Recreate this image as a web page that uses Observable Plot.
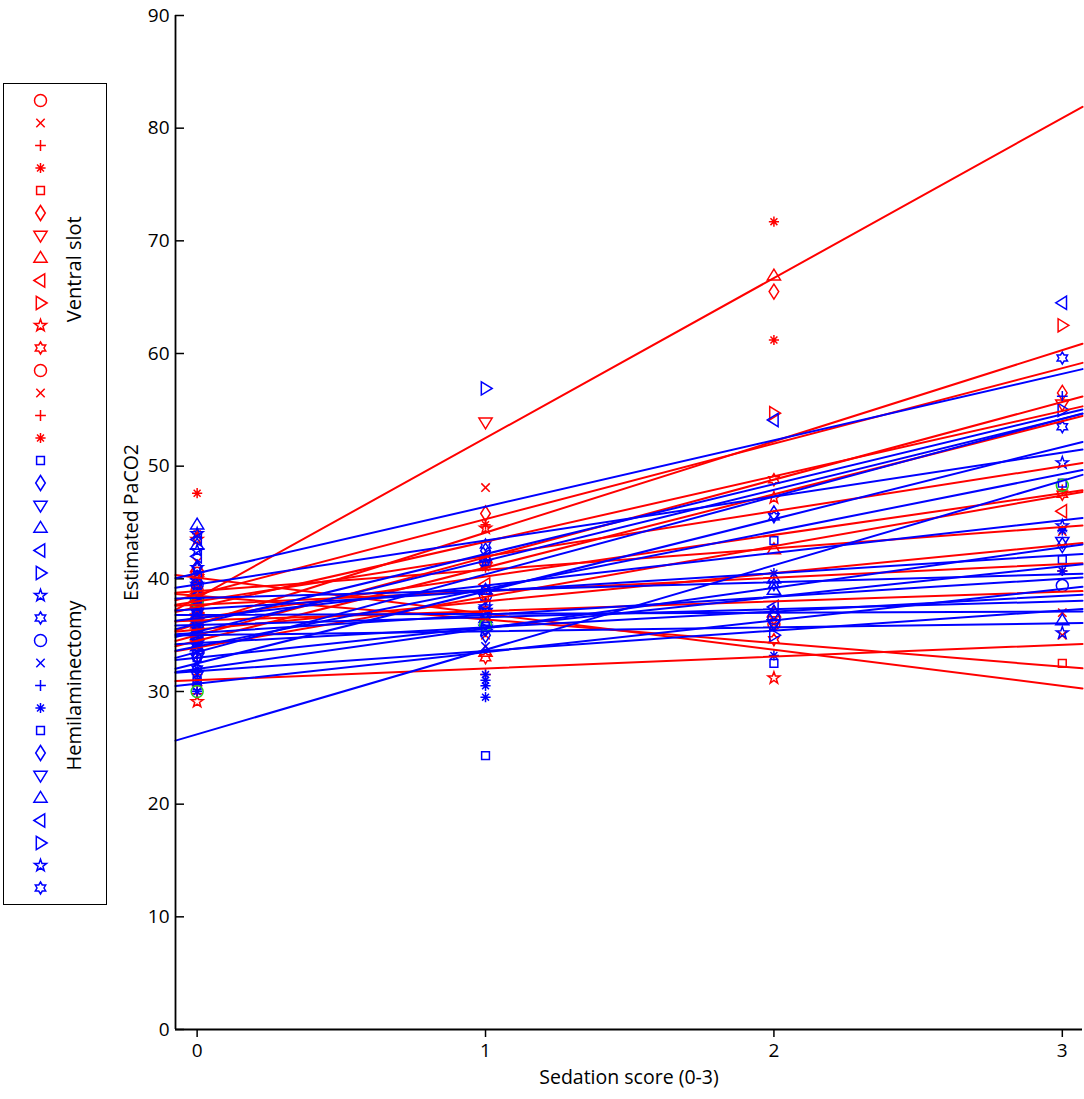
<!DOCTYPE html>
<html>
<head>
<meta charset="utf-8">
<script src="https://cdn.jsdelivr.net/npm/d3@7"></script>
<script src="https://cdn.jsdelivr.net/npm/@observablehq/plot@0.6"></script>
<style>
  html, body { margin: 0; padding: 0; background: #fff; }
  #main { position: absolute; left: 0; top: 0; }
  #legend { position: absolute; left: 3px; top: 83px; width: 102px; height: 820px; border: 1px solid #000; background: #fff; }
  #legend svg { display: block; }
</style>
</head>
<body>
<div id="main"></div>
<div id="legend"></div>
<script>
// ---------- data ----------
const groupNames = ["Ventral slot", "Hemilaminectomy"];
const groupColors = ["#ff0000", "#0000ff"];
const otherColor = "#22cc22";
const xTicks = [0, 1, 2, 3];
const yTicks = [0, 10, 20, 30, 40, 50, 60, 70, 80, 90];
const xLabel = "Sedation score (0-3)";
const yLabel = "Estimated PaCO2";

// marker codes per subject (MATLAB style)
const redSymbols = ["o","x","+","*","s","d","v","^","<",">","p","h","o","x","+","*"];
const blueSymbols = ["s","d","v","^","<",">","p","h","o","x","+","*","s","d","v","^","<",">","p","h"];

// per-subject fitted lines: PaCO2 = intercept + slope * score
const redIntercepts = [37.7, 35.5, 31.0, 38.3, 38.5, 35.0, 38.6, 37.5, 36.5, 36.0, 38.9, 38.0, 36.3, 40.1, 33.9, 34.5];
const redSlopes     = [1.2, 2.5, 1.05, 14.2, -2.1, 6.9, 6.7, 5.8, 3.7, 8.1, 1.9, 4.0, 0.85, -3.2, 4.5, 6.5];
const blueIntercepts = [34.0, 37.3, 35.9, 35.2, 40.5, 35.3, 39.5, 36.0, 38.3, 31.8, 33.5, 30.7, 26.2, 33.0, 32.0, 34.3, 36.8, 35.0, 36.5, 32.5];
const blueSlopes     = [5.1, 1.6, 0.7, 1.6, 5.9, 6.3, 3.9, 6.2, 0.7, 1.8, 6.9, 2.8, 7.5, 2.7, 3.6, 1.4, 0.1, 0.35, 2.9, 6.4];

// observations: [subject, score, PaCO2]
const redObs = [
[0,0,37.5],[0,0,39.0],[0,0,36.0],[0,0,40.5],[0,1,41.5],[0,1,37.0],[0,2,36.5],
[1,0,35.0],[1,0,37.5],[1,0,38.5],[1,1,48.1],[1,2,36.0],[1,3,44.2],
[2,0,30.5],[2,0,31.5],[2,0,29.8],[2,1,31.5],
[3,0,47.6],[3,0,38.0],[3,0,36.5],[3,0,44.0],[3,1,44.8],[3,2,71.7],[3,2,61.2],
[4,0,38.0],[4,0,39.5],[4,0,37.0],[4,1,36.5],[4,3,32.5],
[5,0,35.5],[5,0,37.0],[5,0,34.0],[5,1,45.8],[5,2,65.5],[5,3,56.5],
[6,0,38.0],[6,0,40.0],[6,0,36.5],[6,1,53.9],[6,3,55.5],
[7,0,36.0],[7,0,38.5],[7,0,41.0],[7,1,41.8],[7,1,33.5],[7,2,66.9],[7,2,42.6],[7,2,37.0],
[8,0,36.0],[8,0,37.5],[8,0,34.5],[8,1,39.5],[8,3,46.0],
[9,0,35.0],[9,0,37.0],[9,0,33.5],[9,2,54.7],[9,3,62.5],
[10,0,38.5],[10,0,40.0],[10,0,29.1],[10,0,43.5],[10,1,44.5],[10,1,38.5],[10,2,47.2],[10,2,31.2],
[11,0,37.5],[11,0,39.0],[11,0,35.5],[11,1,33.0],[11,2,48.8],[11,2,34.6],[11,3,47.5],
[12,0,36.5],[12,0,35.0],[12,1,37.0],[12,2,36.0],
[13,0,40.5],[13,0,41.5],[13,0,39.0],[13,1,35.0],[13,3,35.0],[13,3,37.0],
[14,0,33.0],[14,0,34.5],[14,1,42.0],[14,1,38.0],[14,3,47.9],
[15,0,34.0],[15,0,35.5],[15,1,41.0],[15,3,40.7]
];
const blueObs = [
[0,0,34.5],[0,0,33.0],[0,1,39.0],[0,2,43.4],[0,3,48.5],
[1,0,37.0],[1,0,38.5],[1,0,36.0],[1,0,41.0],[1,1,42.5],[1,2,45.8],
[2,0,35.5],[2,0,37.0],[2,1,37.0],[2,2,36.0],
[3,0,44.8],[3,0,35.0],[3,0,43.0],[3,1,39.0],[3,2,40.0],[3,3,36.3],
[4,0,40.0],[4,0,42.0],[4,0,38.5],[4,0,43.5],[4,1,42.0],[4,2,54.1],[4,3,64.5],
[5,0,35.0],[5,0,36.5],[5,0,33.5],[5,1,56.9],[5,3,55.0],
[6,0,39.5],[6,0,41.0],[6,0,38.0],[6,0,42.5],[6,0,44.0],[6,1,41.5],[6,3,50.3],
[7,0,36.5],[7,0,38.0],[7,0,34.5],[7,1,43.0],[7,2,45.5],[7,3,59.6],
[8,0,38.0],[8,0,39.5],[8,1,38.5],[8,2,36.5],[8,3,39.4],
[9,0,31.5],[9,0,32.5],[9,1,34.0],
[10,0,33.0],[10,0,35.0],[10,1,38.0],[10,1,41.2],[10,3,56.2],
[11,0,30.0],[11,0,31.0],[11,0,32.0],[11,1,29.5],[11,1,30.5],[11,1,31.5],[11,1,31.0],[11,2,33.2],[11,2,40.5],[11,3,40.7],[11,3,44.3],
[12,0,30.5],[12,0,31.0],[12,1,24.3],[12,2,32.5],[12,3,41.7],
[13,0,33.0],[13,0,34.0],[13,1,35.0],[13,2,37.0],[13,3,43.0],
[14,0,31.5],[14,0,33.0],[14,1,35.5],[14,2,36.0],[14,3,43.3],
[15,0,34.0],[15,0,35.5],[15,1,36.5],[15,2,39.0],
[16,0,36.5],[16,0,38.0],[16,1,37.5],[16,2,37.5],
[17,0,34.5],[17,0,35.5],[17,1,35.5],[17,2,35.0],
[18,0,36.0],[18,0,37.5],[18,1,37.5],[18,3,44.7],[18,3,35.2],
[19,0,32.0],[19,0,34.0],[19,1,36.0],[19,2,39.5],[19,3,53.5]
];
const greenObs = [[0,30.0],[0,38.0],[1,35.9],[3,48.3]];

// ---------- symbols ----------
function mk(fn) { return { draw(c, size) { fn(c, Math.sqrt(size / Math.PI)); } }; }
function starPath(c, n, R, rin) {
  for (let i = 0; i < 2 * n; i++) {
    const a = -Math.PI / 2 + i * Math.PI / n;
    const rr = i % 2 === 0 ? R : rin;
    const px = rr * Math.cos(a), py = rr * Math.sin(a);
    if (i === 0) c.moveTo(px, py); else c.lineTo(px, py);
  }
  c.closePath();
}
const symbolCodes = ["o","x","+","*","s","d","v","^","<",">","p","h"];
const symbolShapes = [
  mk((c, r) => { const a = r; c.moveTo(a, 0); c.arc(0, 0, a, 0, 2 * Math.PI); }),
  mk((c, r) => { const a = r * 0.7; c.moveTo(-a, -a); c.lineTo(a, a); c.moveTo(-a, a); c.lineTo(a, -a); }),
  mk((c, r) => { const a = r * 0.9; c.moveTo(-a, 0); c.lineTo(a, 0); c.moveTo(0, -a); c.lineTo(0, a); }),
  mk((c, r) => { const a = r * 0.85, b = a * 0.68; c.moveTo(-a, 0); c.lineTo(a, 0); c.moveTo(0, -a); c.lineTo(0, a);
                 c.moveTo(-b, -b); c.lineTo(b, b); c.moveTo(-b, b); c.lineTo(b, -b); }),
  mk((c, r) => { const a = r * 0.65; c.rect(-a, -a, 2 * a, 2 * a); }),
  mk((c, r) => { const h = r * 1.25, w = r * 0.8; c.moveTo(0, -h); c.lineTo(w, 0); c.lineTo(0, h); c.lineTo(-w, 0); c.closePath(); }),
  mk((c, r) => { const w = r * 1.1; c.moveTo(-w, -r * 0.7); c.lineTo(w, -r * 0.7); c.lineTo(0, r * 1.1); c.closePath(); }),
  mk((c, r) => { const w = r * 1.1; c.moveTo(-w, r * 0.7); c.lineTo(w, r * 0.7); c.lineTo(0, -r * 1.1); c.closePath(); }),
  mk((c, r) => { const w = r * 1.1; c.moveTo(-r * 1.1, 0); c.lineTo(r * 0.7, -w); c.lineTo(r * 0.7, w); c.closePath(); }),
  mk((c, r) => { const w = r * 1.1; c.moveTo(r * 1.1, 0); c.lineTo(-r * 0.7, -w); c.lineTo(-r * 0.7, w); c.closePath(); }),
  mk((c, r) => starPath(c, 5, r * 1.05, r * 0.42)),
  mk((c, r) => starPath(c, 6, r * 1.0, r * 0.58))
];

// ---------- derived tables ----------
const xDomain = [-0.075, 3.07];
const yDomain = [0, 90];
const lineRows = (ints, slopes) => ints.flatMap((a, i) => xDomain.map(x => ({x, y: a + slopes[i] * x, subject: i})));
const obsRows = (obs, syms) => obs.map(([s, score, v]) => ({score, v, sym: syms[s]}));
const redDots = obsRows(redObs, redSymbols);
const blueDots = obsRows(blueObs, blueSymbols);
const greenDots = greenObs.map(([score, v]) => ({score, v}));
const font = "'Open Sans', 'Noto Sans', sans-serif";

const main = Plot.plot({
  width: 1084, height: 1099,
  marginLeft: 175, marginRight: 2, marginTop: 15, marginBottom: 70,
  style: {fontFamily: font, fontSize: "19px", background: "white", color: "#000"},
  x: {domain: xDomain},
  y: {domain: yDomain},
  symbol: {domain: symbolCodes, range: symbolShapes},
  marks: [
    Plot.axisX({ticks: xTicks, tickSize: 8, tickPadding: 6, tickFormat: d => d, label: null, strokeWidth: 1.5, fontSize: 19}),
    Plot.axisY({ticks: yTicks, tickSize: -9, tickPadding: 15, tickFormat: d => d, label: null, strokeWidth: 1.5, fontSize: 19}),
    Plot.dot(redDots, {x: "score", y: "v", symbol: "sym", r: 6, fill: "none", stroke: groupColors[0], strokeWidth: 1.5}),
    Plot.dot(blueDots, {x: "score", y: "v", symbol: "sym", r: 6, fill: "none", stroke: groupColors[1], strokeWidth: 1.5}),
    Plot.dot(greenDots, {x: "score", y: "v", r: 6, fill: "none", stroke: otherColor, strokeWidth: 1.5}),
    Plot.line(lineRows(redIntercepts, redSlopes), {x: "x", y: "y", z: "subject", stroke: groupColors[0], strokeWidth: 2}),
    Plot.line(lineRows(blueIntercepts, blueSlopes), {x: "x", y: "y", z: "subject", stroke: groupColors[1], strokeWidth: 2}),
    Plot.ruleY([yDomain[0]], {stroke: "#000", strokeWidth: 1.8}),
    Plot.ruleX([xDomain[0]], {stroke: "#000", strokeWidth: 1.8}),
    Plot.text([xLabel], {text: d => d, frameAnchor: "bottom", dy: 54, fontSize: 19.5, fill: "#000"}),
    Plot.text([yLabel], {text: d => d, frameAnchor: "left", textAnchor: "middle", dx: -44, rotate: -90, fontSize: 19.5, fill: "#000"})
  ]
});
document.getElementById("main").appendChild(main);

// ---------- legend ----------
const legendEntries = [
  ...redSymbols.map((s, i) => ({index: i, sym: s, color: groupColors[0]})),
  ...blueSymbols.map((s, i) => ({index: redSymbols.length + i, sym: s, color: groupColors[1]}))
];
const legendLabels = [
  {label: groupNames[0], center: (redSymbols.length - 1) / 2},
  {label: groupNames[1], center: redSymbols.length + (blueSymbols.length - 1) / 2 + 0.5}
];
const legend = Plot.plot({
  width: 102, height: 820,
  marginLeft: 0, marginRight: 30, marginTop: 16, marginBottom: 16.5,
  style: {fontFamily: font, background: "white", color: "#000"},
  x: {axis: null},
  y: {domain: [0, legendEntries.length - 1], reverse: true, axis: null},
  color: {type: "identity"},
  symbol: {domain: symbolCodes, range: symbolShapes},
  marks: [
    Plot.dot(legendEntries, {y: "index", symbol: "sym", stroke: "color", fill: "none", r: 6, strokeWidth: 1.5}),
    Plot.text(legendLabels, {y: "center", text: "label", frameAnchor: "right", textAnchor: "middle", dx: -2, rotate: -90, fontSize: 20, fill: "#000"})
  ]
});
document.getElementById("legend").appendChild(legend);
</script>
</body>
</html>
